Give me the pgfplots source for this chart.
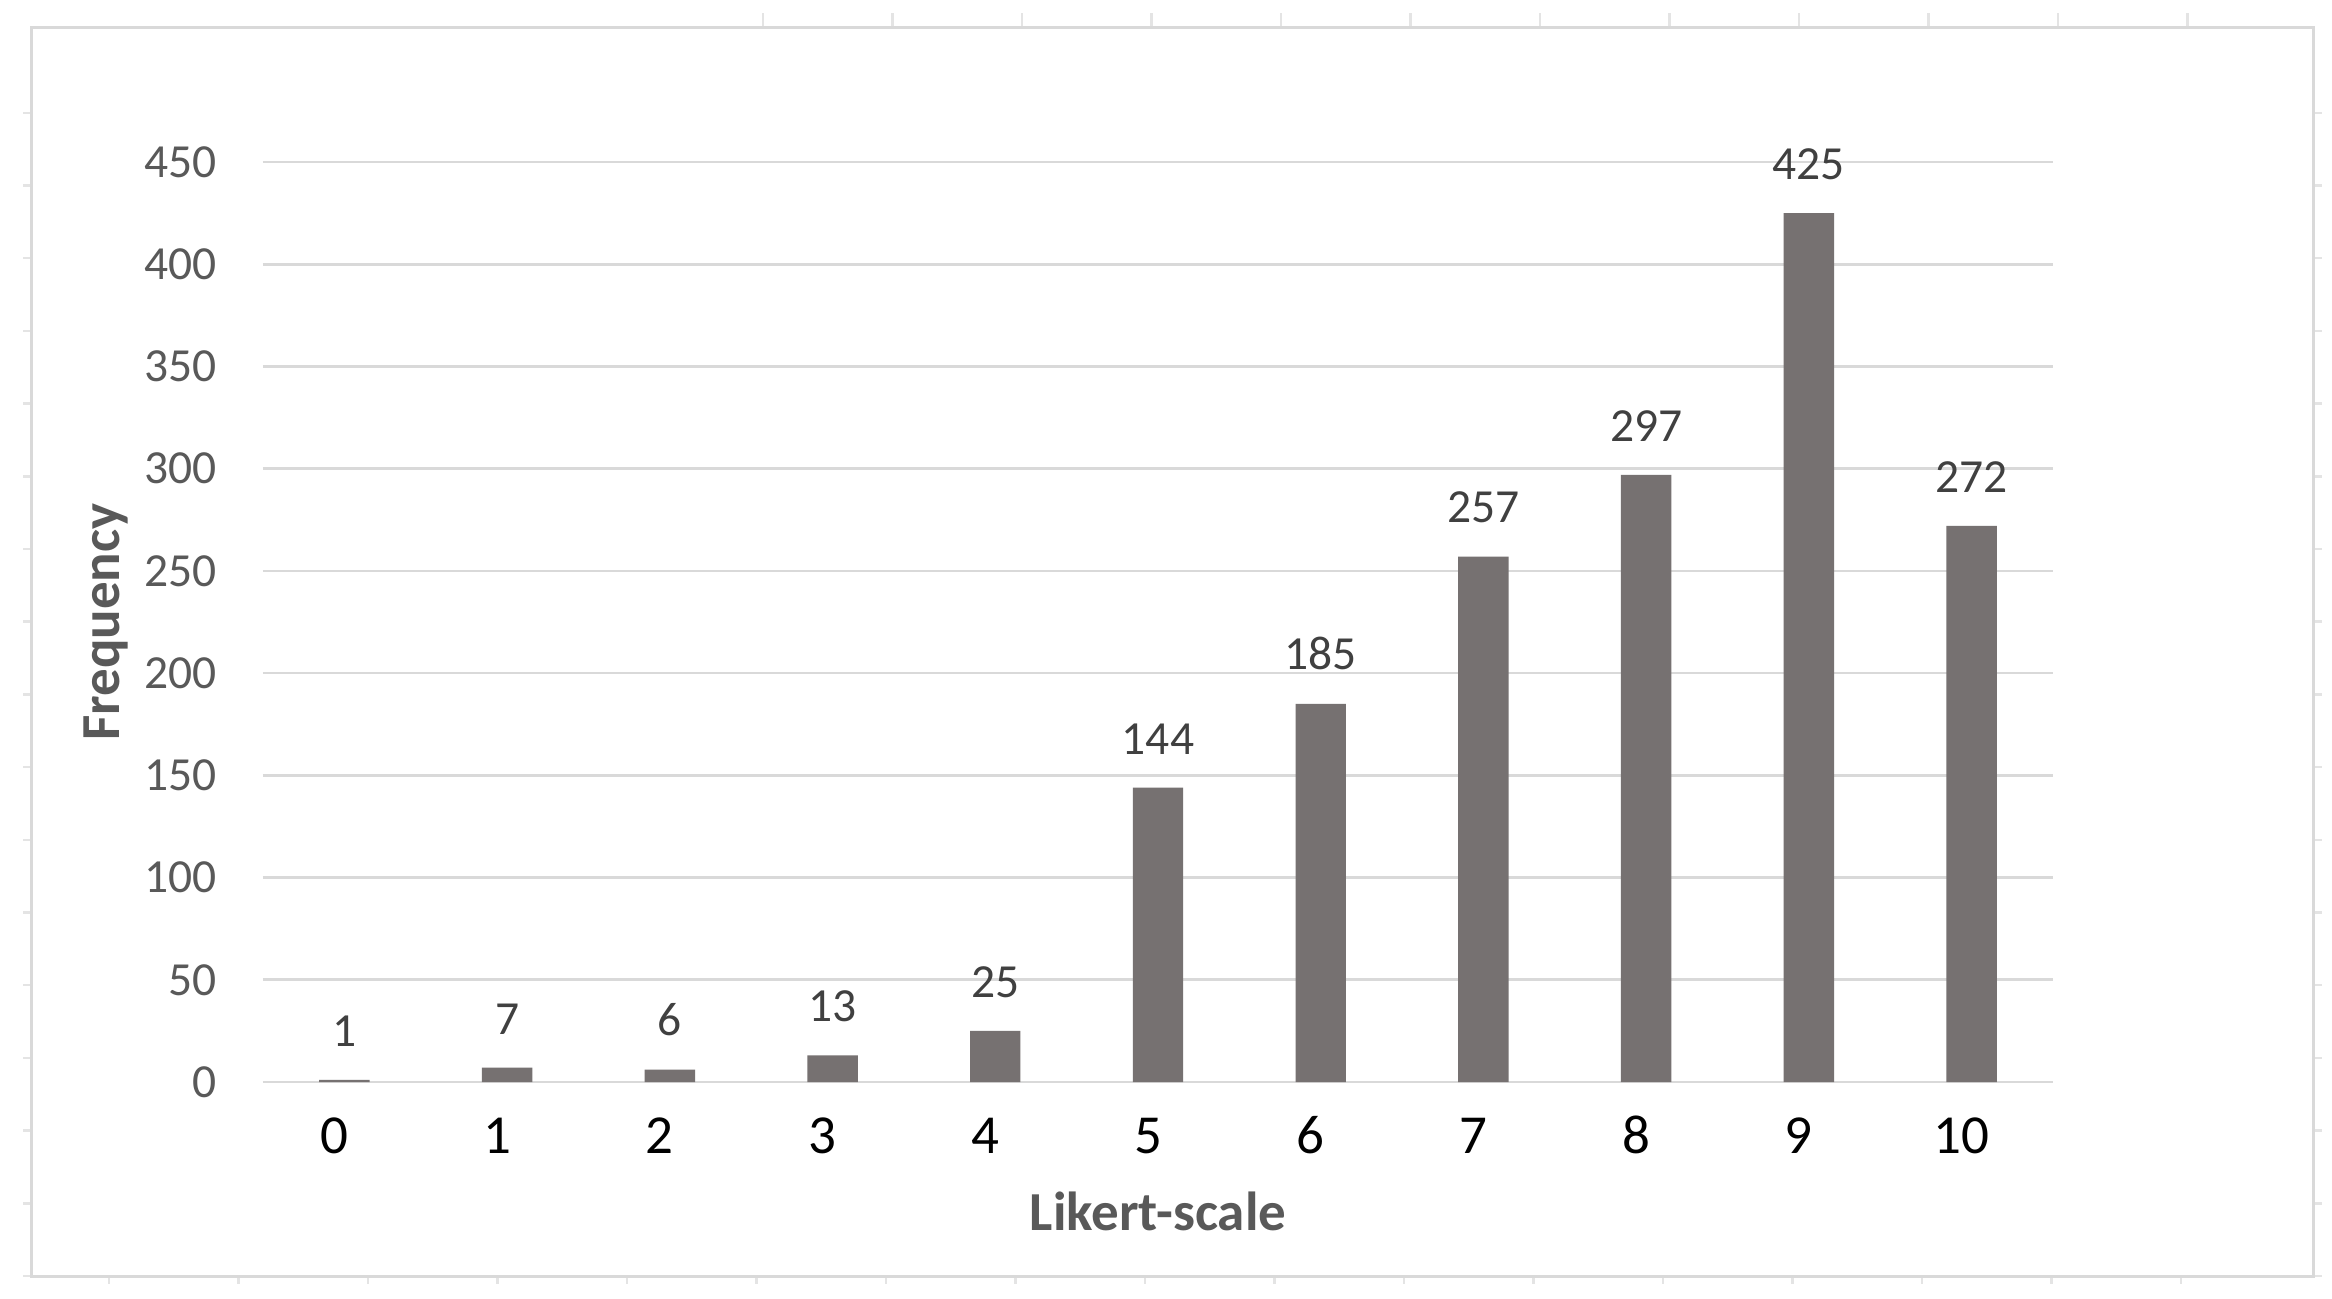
\documentclass[border=0pt]{standalone}
\usepackage{fontspec}
\setmainfont{Carlito}
\usepackage{pgfplots}
\usepackage{pgfplotstable}
\pgfplotsset{compat=1.18}
\definecolor{barc}{HTML}{767171}
\definecolor{gridc}{HTML}{D9D9D9}
\definecolor{tickc}{HTML}{595959}
\definecolor{labc}{HTML}{404040}
\definecolor{framec}{HTML}{D9D9D9}
\definecolor{cellc}{HTML}{E4E4E4}

\pgfplotstableread{
x y
0 1
1 7
2 6
3 13
4 25
5 144
6 185
7 257
8 297
9 425
10 272
}\likert

\begin{document}
\begin{tikzpicture}
\useasboundingbox (-52.6pt,-43.4pt) rectangle (413.8pt,216.4pt);
\fill[white] (-52.6pt,-43.4pt) rectangle (413.8pt,216.4pt);
% faint cell-grid marks around the frame
\foreach \k in {0,...,11} {\draw[cellc, line width=0.5pt] ({(100+25.9*\k)*1pt},210.9pt) -- ({(100+25.9*\k)*1pt},213.8pt);}
\foreach \k in {0,...,16} {\draw[cellc, line width=0.5pt] (-47.9pt,{(-38.8+14.54*\k)*1pt}) -- (-46.2pt,{(-38.8+14.54*\k)*1pt});}
\foreach \k in {0,...,16} {\draw[cellc, line width=0.5pt] (410pt,{(-38.8+14.54*\k)*1pt}) -- (411.8pt,{(-38.8+14.54*\k)*1pt});}
\foreach \k in {0,...,16} {\draw[cellc, line width=0.5pt] ({(383.6-25.9*\k)*1pt},-38.8pt) -- ({(383.6-25.9*\k)*1pt},-40.3pt);}
\draw[framec, line width=0.6pt] (-46.2pt,-38.8pt) rectangle (410pt,210.9pt);
\begin{axis}[
  at={(0,0)}, anchor=south west,
  width=358pt, height=184pt, scale only axis,
  /pgf/number format/assume math mode=true,
  xmin=-0.5, xmax=10.5, ymin=0, ymax=450,
  xtick={0,...,10}, ytick={0,50,...,450},
  axis line style={draw=none},
  tick style={draw=none},
  ymajorgrids, grid style={gridc, line width=0.55pt},
  clip=false,
  ybar, bar width=0.31,
  yticklabel style={font=\fontsize{9.5}{10}\selectfont, text=tickc, xshift=-5.8pt},
  xticklabel style={font=\fontsize{11}{12}\selectfont, text=black, anchor=base, yshift=-10pt, xshift=-2pt},
  xlabel={Likert-scale},
  ylabel={Frequency},
  xlabel style={font=\fontsize{11}{12}\selectfont\bfseries, text=tickc, at={(axis description cs:0.5,-0.1609)}, anchor=base},
  ylabel style={font=\fontsize{11}{12}\selectfont\bfseries, text=tickc, at={(axis description cs:-0.0799,0.5)}, anchor=base},
  nodes near coords,
  every node near coord/.append style={font=\fontsize{9.5}{10}\selectfont, text=labc, inner sep=0pt, anchor=south, yshift=6.5pt},
]
\addplot[fill=barc, draw=none] table[x=x, y=y] {\likert};
\end{axis}
\end{tikzpicture}
\end{document}
